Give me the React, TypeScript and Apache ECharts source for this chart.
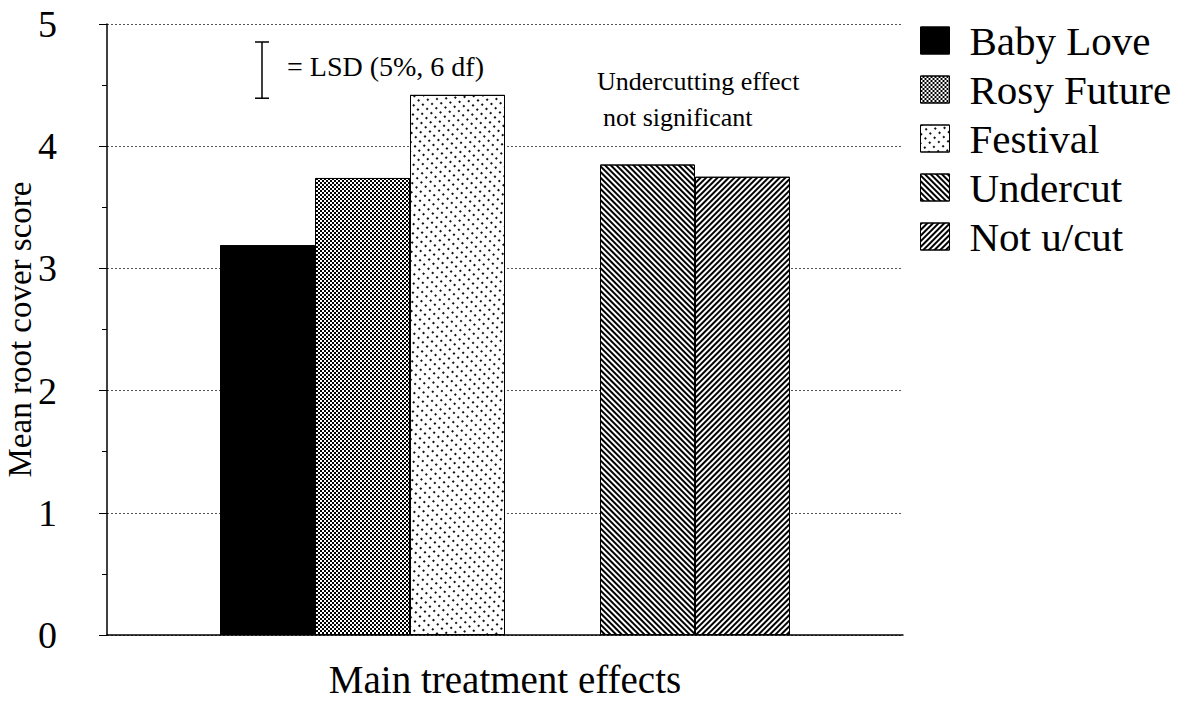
import React, { useEffect, useRef } from "react";
import * as echarts from "echarts";

const categories = ["Baby Love", "Rosy Future", "Festival", "", "Undercut", "Not u/cut"];
const seriesNames = ["Baby Love", "Rosy Future", "Festival", "Undercut", "Not u/cut"];
const seriesValues = [3.19, 3.74, 4.42, 3.85, 3.75];
const seriesSlots = [0, 1, 2, 4, 5];
const yTicks = [0, 1, 2, 3, 4, 5];
const lsdValue = 0.46;

const FONT = "'Liberation Serif', 'Times New Roman', 'DejaVu Serif', serif";

const decals: any[] = [
  { symbol: "rect", symbolSize: 1, dashArrayX: [2, 2], dashArrayY: [2, 2], color: "#000", backgroundColor: "#000" },
  { symbol: "rect", symbolSize: 1, dashArrayX: [[2, 2], [0, 2, 2, 0]], dashArrayY: [2, 0], color: "#000", backgroundColor: "#fff" },
  { symbol: "rect", symbolSize: 1, dashArrayX: [1.8, 4.2], dashArrayY: [1.8, 3.9], color: "#111", backgroundColor: "#fff" },
  { symbol: "rect", symbolSize: 1, dashArrayX: [1, 0], dashArrayY: [1.4, 1.9], rotation: Math.PI / 4, color: "#000", backgroundColor: "#fff" },
  { symbol: "rect", symbolSize: 1, dashArrayX: [1, 0], dashArrayY: [1.4, 1.9], rotation: -Math.PI / 4, color: "#000", backgroundColor: "#fff" },
];
const fills = ["#000", "#fff", "#fff", "#fff", "#fff"];

export default function App() {
  const ref = useRef<HTMLDivElement>(null);
  useEffect(() => {
    if (!ref.current) return;
    const chart = echarts.init(ref.current, null, { renderer: "svg" });
    const gridTop = 24;
    const gridBottom = 703 - 635;
    const series = seriesNames.map((name, i) => ({
      name,
      type: "bar",
      xAxisIndex: 1,
      yAxisIndex: 1,
      stack: "all",
      barCategoryGap: "0%",
      data: categories.map((_, j) => (j === seriesSlots[i] ? seriesValues[i] : "-")),
      itemStyle: { color: fills[i], borderColor: "#000", borderWidth: 1, decal: decals[i] },
    }));
    chart.setOption({
      animation: false,
      aria: { enabled: true, decal: { show: true } },
      backgroundColor: "#fff",
      textStyle: { fontFamily: FONT, color: "#000" },
      grid: [
        { left: 107, top: gridTop, width: 796, bottom: gridBottom, outerBoundsMode: "none", containLabel: false },
        { left: 220, top: gridTop, width: 570, bottom: gridBottom, outerBoundsMode: "none", containLabel: false },
      ],
      xAxis: [
        {
          type: "value",
          gridIndex: 0,
          min: 0,
          max: 1,
          axisLine: { show: true, lineStyle: { color: "#000", width: 1.5 } },
          axisTick: { show: false },
          axisLabel: { show: false },
          splitLine: { show: false },
          name: "Main treatment effects",
          nameLocation: "middle",
          nameGap: 25,
          nameMoveOverlap: false,
          nameTextStyle: { fontFamily: FONT, fontSize: 39, color: "#000" },
        },
        {
          type: "category",
          gridIndex: 1,
          data: categories,
          show: false,
        },
      ],
      yAxis: [
        {
          type: "value",
          gridIndex: 0,
          min: 0,
          max: 5,
          interval: 1,
          axisLine: { show: true, lineStyle: { color: "#000", width: 1.5 } },
          axisTick: { show: true, length: 8, lineStyle: { color: "#000" } },
          minorTick: { show: true, splitNumber: 2, length: 5, lineStyle: { color: "#000" } },
          axisLabel: {
            fontFamily: FONT,
            fontSize: 38,
            color: "#000",
            margin: 50,
            formatter: (v: number) => (yTicks.includes(v) ? String(v) : ""),
          },
          splitLine: { show: true, lineStyle: { color: "#555", width: 1, type: [2, 2] } },
          name: "Mean root cover score",
          nameLocation: "middle",
          nameGap: 71,
          nameMoveOverlap: false,
          nameRotate: 90,
          nameTextStyle: { fontFamily: FONT, fontSize: 33, color: "#000" },
        },
        {
          type: "value",
          gridIndex: 1,
          min: 0,
          max: 5,
          show: false,
          splitLine: { show: false },
        },
      ],
      legend: {
        orient: "vertical",
        left: 915,
        top: 15,
        itemWidth: 29,
        itemHeight: 27,
        itemGap: 8,
        icon: "rect",
        data: seriesNames,
        textStyle: { fontFamily: FONT, fontSize: 41, color: "#000", padding: [0, 0, 0, 15] },
        itemStyle: { borderColor: "#000", borderWidth: 1 },
      },
      graphic: [
        { type: "line", shape: { x1: 262, y1: 42, x2: 262, y2: 42 + lsdValue * 122.2 }, style: { stroke: "#000", lineWidth: 1.5 } },
        { type: "line", shape: { x1: 255, y1: 42, x2: 269, y2: 42 }, style: { stroke: "#000", lineWidth: 1.5 } },
        { type: "line", shape: { x1: 255, y1: 42 + lsdValue * 122.2, x2: 269, y2: 42 + lsdValue * 122.2 }, style: { stroke: "#000", lineWidth: 1.5 } },
        { type: "text", left: 287, top: 52, style: { text: "= LSD (5%, 6 df)", fontFamily: FONT, fontSize: 28, fill: "#000" } },
        { type: "text", left: 597, top: 68, style: { text: "Undercutting effect", fontFamily: FONT, fontSize: 26, fill: "#000" } },
        { type: "text", left: 603, top: 104, style: { text: "not significant", fontFamily: FONT, fontSize: 26, fill: "#000" } },
      ],
      series,
    });
    return () => chart.dispose();
  }, []);
  return <div ref={ref} style={{ width: 1183, height: 703, position: "absolute", left: 0, top: 0 }} />;
}
